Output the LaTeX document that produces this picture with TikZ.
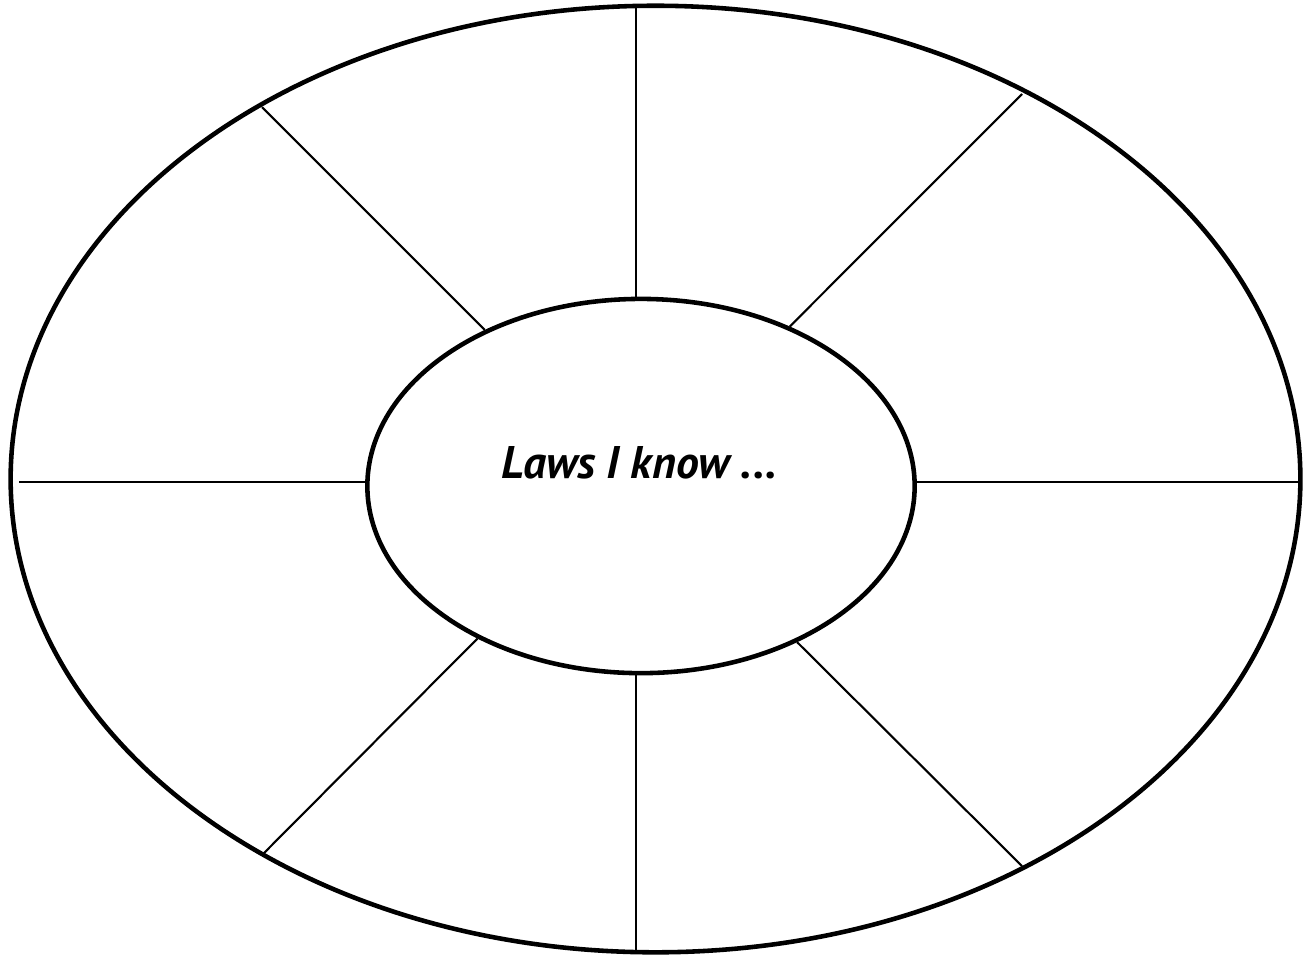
\documentclass[tikz,border=0pt]{standalone}
\usepackage{fontspec}
\setmainfont{PT Sans}
\usetikzlibrary{shapes.geometric}

\begin{document}
\begin{tikzpicture}[x=0.01cm,y=-0.01cm]
\useasboundingbox (0,0) rectangle (1313,956);
 \begin{scope}[every node/.style={draw, ellipse, line width=1.3pt, inner sep=0pt}]
  \node[minimum width=12.89cm, minimum height=9.46cm] (outer) at (655.5,479) {};
  \node[minimum width=5.47cm, minimum height=3.74cm] (inner) at (641,486) {};
 \end{scope}
\node (label) at (639,463) {\fontsize{13}{15}\selectfont\bfseries\itshape Laws I know ...};
  \coordinate (o90) at (636,6.5);
  \coordinate (o270) at (636,952);
  \coordinate (o180) at (19,482);
  \coordinate (o0) at (1298,482);
  \coordinate (o135) at (262,107);
  \coordinate (o45) at (1022,94);
  \coordinate (o225) at (262,855);
  \coordinate (o315) at (1022,866);
 \begin{scope}[line width=0.6pt]
  \path [draw] (inner.north -| o90) edge node {} (o90);
  \path [draw] (inner.south -| o270) edge node {} (o270);
  \path [draw] (inner.west |- o180) edge node {} (o180);
  \path [draw] (inner.east |- o0) edge node {} (o0);
  \path [draw] (inner.135) edge node {} (o135);
  \path [draw] (inner.47) edge node {} (o45);
  \path [draw] (inner.223) edge node {} (o225);
  \path [draw] (inner.-45) edge node {} (o315);
 \end{scope}
\end{tikzpicture}
\end{document}
